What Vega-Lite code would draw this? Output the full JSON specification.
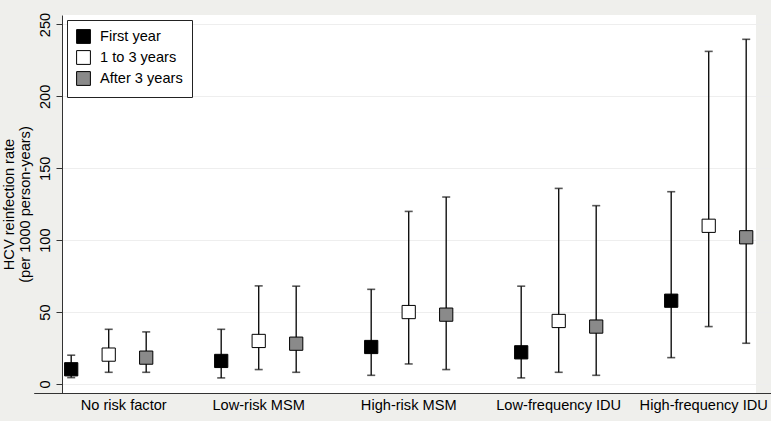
{
  "$schema": "https://vega.github.io/schema/vega-lite/v6.json",
  "width": 694,
  "height": 378,
  "autosize": {"type": "none"},
  "padding": {"left": 62, "top": 15, "right": 15, "bottom": 28},
  "background": "#efefec",
  "config": {
    "font": "Liberation Sans",
    "view": {"fill": "#ffffff", "stroke": null}
  },
  "data": {
    "values": [
      {"group": "No risk factor", "period": "First year", "rate": 10.2, "lower": 4.4, "upper": 20},
      {"group": "No risk factor", "period": "1 to 3 years", "rate": 20.4, "lower": 8.1, "upper": 38},
      {"group": "No risk factor", "period": "After 3 years", "rate": 18.3, "lower": 8.1, "upper": 36.2},
      {"group": "Low-risk MSM", "period": "First year", "rate": 16, "lower": 4.2, "upper": 38},
      {"group": "Low-risk MSM", "period": "1 to 3 years", "rate": 29.9, "lower": 10, "upper": 68.2},
      {"group": "Low-risk MSM", "period": "After 3 years", "rate": 28, "lower": 8.1, "upper": 68},
      {"group": "High-risk MSM", "period": "First year", "rate": 25.7, "lower": 6, "upper": 65.8},
      {"group": "High-risk MSM", "period": "1 to 3 years", "rate": 50, "lower": 13.9, "upper": 120},
      {"group": "High-risk MSM", "period": "After 3 years", "rate": 48.2, "lower": 10, "upper": 130},
      {"group": "Low-frequency IDU", "period": "First year", "rate": 22, "lower": 4.2, "upper": 68},
      {"group": "Low-frequency IDU", "period": "1 to 3 years", "rate": 43.8, "lower": 8.1, "upper": 136},
      {"group": "Low-frequency IDU", "period": "After 3 years", "rate": 39.9, "lower": 6, "upper": 124},
      {"group": "High-frequency IDU", "period": "First year", "rate": 57.9, "lower": 18.3, "upper": 133.7},
      {"group": "High-frequency IDU", "period": "1 to 3 years", "rate": 110, "lower": 39.9, "upper": 231.3},
      {"group": "High-frequency IDU", "period": "After 3 years", "rate": 102, "lower": 28.3, "upper": 239.7}
    ]
  },
  "encoding": {
    "x": {
      "field": "group",
      "type": "nominal",
      "sort": ["No risk factor", "Low-risk MSM", "High-risk MSM", "Low-frequency IDU", "High-frequency IDU"],
      "scale": {"range": [-28.3, 721.7], "paddingInner": 0, "paddingOuter": 0},
      "axis": {
        "title": null,
        "labelAngle": 0,
        "labelFontSize": 14.6,
        "labelColor": "#000000",
        "labelPadding": 4,
        "ticks": false,
        "grid": false,
        "domainColor": "#333333",
        "domainWidth": 1,
        "labelOffset": {"condition": [{"test": "datum.value === 'No risk factor'", "value": 15}, {"test": "datum.value === 'High-frequency IDU'", "value": -5}], "value": 0}
      }
    },
    "xOffset": {
      "field": "period",
      "type": "nominal",
      "sort": ["First year", "1 to 3 years", "After 3 years"],
      "scale": {"range": [0, 150], "paddingInner": 0, "paddingOuter": 0.5}
    }
  },
  "layer": [
    {
      "mark": {"type": "rule", "color": "#111111", "strokeWidth": 1.4},
      "encoding": {
        "y": {
          "field": "lower",
          "type": "quantitative",
          "scale": {"domain": [-6.3, 256.6], "nice": false, "zero": false},
          "axis": {
            "title": ["HCV reinfection rate", "(per 1000 person-years)"],
            "titleFontSize": 14.6,
            "titleFontWeight": "normal",
            "titleColor": "#000000",
            "titleLineHeight": 16,
            "titlePadding": 5,
            "values": [0, 50, 100, 150, 200, 250],
            "labelAngle": -90,
            "labelFontSize": 14.6,
            "labelColor": "#000000",
            "labelPadding": 4,
            "tickSize": 6,
            "tickColor": "#333333",
            "domainColor": "#333333",
            "gridColor": "#eeeeee",
            "gridWidth": 1.2
          }
        },
        "y2": {"field": "upper"}
      }
    },
    {
      "mark": {"type": "tick", "color": "#111111", "thickness": 1.6, "size": 8, "orient": "horizontal"},
      "encoding": {"y": {"field": "upper", "type": "quantitative"}}
    },
    {
      "mark": {"type": "tick", "color": "#111111", "thickness": 1.6, "size": 8, "orient": "horizontal"},
      "encoding": {"y": {"field": "lower", "type": "quantitative"}}
    },
    {
      "mark": {"type": "square", "size": 175, "stroke": "#000000", "strokeWidth": 1, "opacity": 1},
      "encoding": {
        "y": {"field": "rate", "type": "quantitative"},
        "fill": {
          "field": "period",
          "type": "nominal",
          "scale": {"domain": ["First year", "1 to 3 years", "After 3 years"], "range": ["#000000", "#ffffff", "#8a8a8a"]},
          "legend": {
            "orient": "none",
            "legendX": 5,
            "legendY": 5,
            "title": null,
            "fillColor": "#ffffff",
            "strokeColor": "#222222",
            "padding": 9,
            "cornerRadius": 0,
            "symbolType": "square",
            "symbolSize": 190,
            "symbolStrokeColor": "#000000",
            "symbolStrokeWidth": 1,
            "symbolOpacity": 1,
            "labelFontSize": 14.6,
            "labelColor": "#000000",
            "labelOffset": 9,
            "rowPadding": 2
          }
        }
      }
    }
  ]
}
